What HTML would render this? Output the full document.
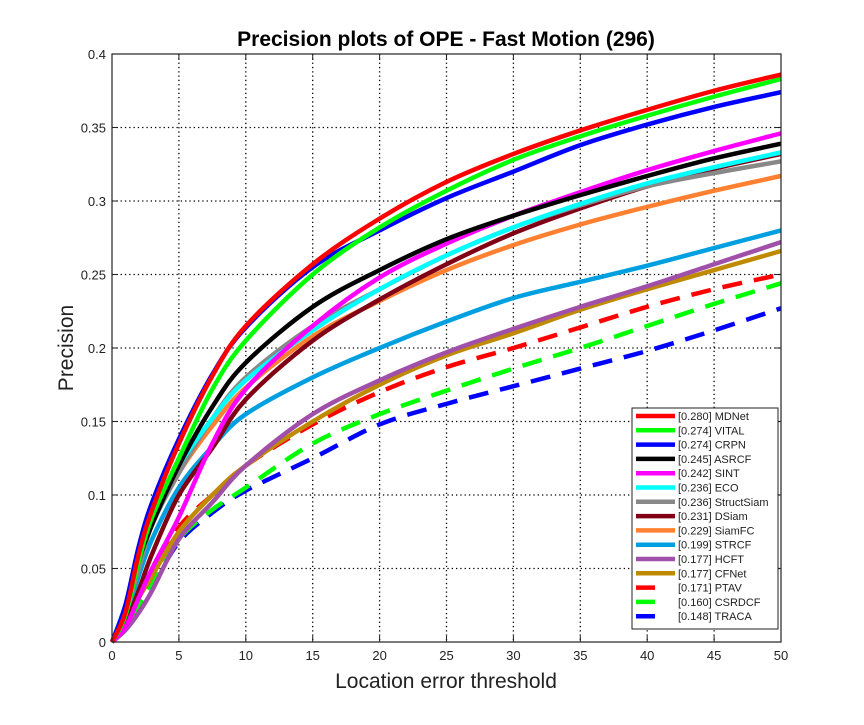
<!DOCTYPE html>
<html><head><meta charset="utf-8"><style>
body{margin:0;background:#fff;}
svg text{font-family:"Liberation Sans",Arial,sans-serif;}
</style></head><body>
<svg id="chart" width="864" height="720" viewBox="0 0 864 720"></svg>
<script>
const xs = [0,1,2,3,5,7.5,10,15,20,25,30,35,40,45,50];
const names = ["MDNet","VITAL","CRPN","ASRCF","SINT","ECO","StructSiam","DSiam","SiamFC","STRCF","HCFT","CFNet","PTAV","CSRDCF","TRACA"];
const scores = ["0.280","0.274","0.274","0.245","0.242","0.236","0.236","0.231","0.229","0.199","0.177","0.177","0.171","0.160","0.148"];
const colors = ["#ff0000","#00ff00","#0000ff","#000000","#ff00ff","#00ffff","#888888","#800015","#ff8030","#00a0e0","#a050a8","#c08a00","#ff0000","#00ff00","#0000ff"];
const dashed = [false,false,false,false,false,false,false,false,false,false,false,false,true,true,true];
const sMDNet  = [0,0.02,0.06,0.09,0.135,0.181,0.215,0.257,0.288,0.313,0.332,0.348,0.362,0.375,0.386];
const sVITAL  = [0,0.018,0.055,0.085,0.125,0.172,0.205,0.25,0.282,0.307,0.328,0.344,0.358,0.371,0.383];
const sCRPN   = [0,0.025,0.065,0.095,0.138,0.182,0.214,0.255,0.28,0.302,0.32,0.338,0.352,0.364,0.374];
const sASRCF  = [0,0.02,0.055,0.08,0.12,0.16,0.19,0.228,0.253,0.274,0.29,0.304,0.317,0.329,0.339];
const sSINT   = [0,0.01,0.03,0.05,0.085,0.135,0.172,0.215,0.248,0.271,0.29,0.306,0.321,0.334,0.346];
const sECO    = [0,0.025,0.06,0.085,0.12,0.152,0.178,0.212,0.24,0.263,0.282,0.298,0.312,0.323,0.333];
const sSS     = [0,0.02,0.05,0.08,0.115,0.152,0.18,0.215,0.24,0.263,0.282,0.297,0.31,0.319,0.327];
const sDSiam  = [0,0.012,0.035,0.06,0.1,0.132,0.165,0.205,0.233,0.257,0.278,0.295,0.31,0.322,0.332];
const sSiamFC = [0,0.02,0.05,0.08,0.115,0.147,0.173,0.208,0.232,0.253,0.27,0.284,0.296,0.307,0.317];
const sSTRCF  = [0,0.015,0.045,0.07,0.105,0.133,0.155,0.18,0.2,0.218,0.234,0.245,0.256,0.268,0.28];
const sHCFT   = [0,0.008,0.02,0.035,0.07,0.095,0.12,0.155,0.178,0.197,0.213,0.228,0.242,0.257,0.272];
const sCFNet  = [0,0.012,0.03,0.045,0.075,0.1,0.12,0.15,0.175,0.195,0.21,0.226,0.24,0.253,0.266];
const sPTAV   = [0,0.012,0.03,0.045,0.078,0.1,0.12,0.148,0.17,0.187,0.2,0.214,0.228,0.24,0.25];
const sCSRDCF = [0,0.01,0.025,0.04,0.07,0.09,0.105,0.135,0.155,0.171,0.186,0.2,0.215,0.23,0.244];
const sTRACA  = [0,0.01,0.025,0.038,0.068,0.088,0.103,0.125,0.148,0.162,0.174,0.186,0.198,0.212,0.227];
const series = [sMDNet,sVITAL,sCRPN,sASRCF,sSINT,sECO,sSS,sDSiam,sSiamFC,sSTRCF,sHCFT,sCFNet,sPTAV,sCSRDCF,sTRACA];
const xTicks = [0,5,10,15,20,25,30,35,40,45,50];
const yTicks = [0,0.05,0.1,0.15,0.2,0.25,0.3,0.35,0.4];
const yTickLabels = ["0","0.05","0.1","0.15","0.2","0.25","0.3","0.35","0.4"];

const L=112,R=781,T=54,B=642;
const X=v=>L+(v/50)*(R-L);
const Y=v=>B-(v/0.4)*(B-T);
const NS="http://www.w3.org/2000/svg";
const svg=document.getElementById('chart');
function mk(tag,attrs,parent){const e=document.createElementNS(NS,tag);for(const k in attrs)e.setAttribute(k,attrs[k]);(parent||svg).appendChild(e);return e;}

const grid=mk('g',{});


xTicks.forEach(t=>{if(t>0&&t<50)mk('line',{x1:X(t),x2:X(t),y1:T,y2:B,stroke:'#000','stroke-width':1.3,'stroke-dasharray':'1.3,3'},grid);});
yTicks.forEach(t=>{if(t>0&&t<0.4)mk('line',{x1:L,x2:R,y1:Y(t),y2:Y(t),stroke:'#000','stroke-width':1.3,'stroke-dasharray':'1.3,3'},grid);});

function pathD(xv,yv){
  const p=xv.map((x,i)=>[X(x),Y(yv[i])]);
  let d=`M${p[0][0]},${p[0][1]}`;
  for(let i=0;i<p.length-1;i++){
    const p0=p[Math.max(i-1,0)],p1=p[i],p2=p[i+1],p3=p[Math.min(i+2,p.length-1)];
    const c1=[p1[0]+(p2[0]-p0[0])/6,p1[1]+(p2[1]-p0[1])/6];
    const c2=[p2[0]-(p3[0]-p1[0])/6,p2[1]-(p3[1]-p1[1])/6];
    d+=`C${c1[0]},${c1[1]} ${c2[0]},${c2[1]} ${p2[0]},${p2[1]}`;
  }
  return d;
}
const curves=mk('g',{});


for(let i=series.length-1;i>=0;i--){
  const el=mk('path',{d:pathD(xs,series[i]),fill:'none',stroke:colors[i],'stroke-width':4.5,'stroke-dasharray':dashed[i]?'20,12':'none'},curves);
  
  
}

const box=mk('rect',{x:L,y:T,width:R-L,height:B-T,fill:'none',stroke:'#222','stroke-width':1.2});


xTicks.forEach((t,i)=>{
  mk('line',{x1:X(t),x2:X(t),y1:B,y2:B-6,stroke:'#222'});mk('line',{x1:X(t),x2:X(t),y1:T,y2:T+6,stroke:'#222'});
  const tx=mk('text',{x:X(t),y:B+18,'font-size':13,'text-anchor':'middle',fill:'#222'});tx.textContent=t;
  
  
});
yTicks.forEach((t,i)=>{
  mk('line',{x1:L,x2:L+6,y1:Y(t),y2:Y(t),stroke:'#222'});mk('line',{x1:R,x2:R-6,y1:Y(t),y2:Y(t),stroke:'#222'});
  const tx=mk('text',{x:L-6,y:Y(t)+5,'font-size':13,'text-anchor':'end',fill:'#222'});tx.textContent=yTickLabels[i];
  
  
});

const title=mk('text',{x:446,y:46,'font-size':21,'font-weight':'bold','text-anchor':'middle',fill:'#000'});title.textContent='Precision plots of OPE - Fast Motion (296)';


const xt=mk('text',{x:446,y:688,'font-size':21,'text-anchor':'middle',fill:'#222'});xt.textContent='Location error threshold';


const yt=mk('text',{x:0,y:0,'font-size':21,'text-anchor':'middle',fill:'#222',transform:`translate(73,${(T+B)/2}) rotate(-90)`});yt.textContent='Precision';



const lg=mk('g',{});


mk('rect',{x:632,y:408,width:146,height:221,fill:'#fff',stroke:'#222','stroke-width':1},lg);
names.forEach((n,i)=>{
  const y=416+i*14.3;
  const e=mk('g',{},lg);
  
  
  if(dashed[i]) mk('line',{x1:636,x2:655,y1:y,y2:y,stroke:colors[i],'stroke-width':4.5},e);
  else mk('line',{x1:636,x2:675,y1:y,y2:y,stroke:colors[i],'stroke-width':4.5},e);
  const t=mk('text',{x:678,y:y+4,'font-size':11,fill:'#222'},e);t.textContent='['+scores[i]+'] '+n;
});
</script>
</body></html>
